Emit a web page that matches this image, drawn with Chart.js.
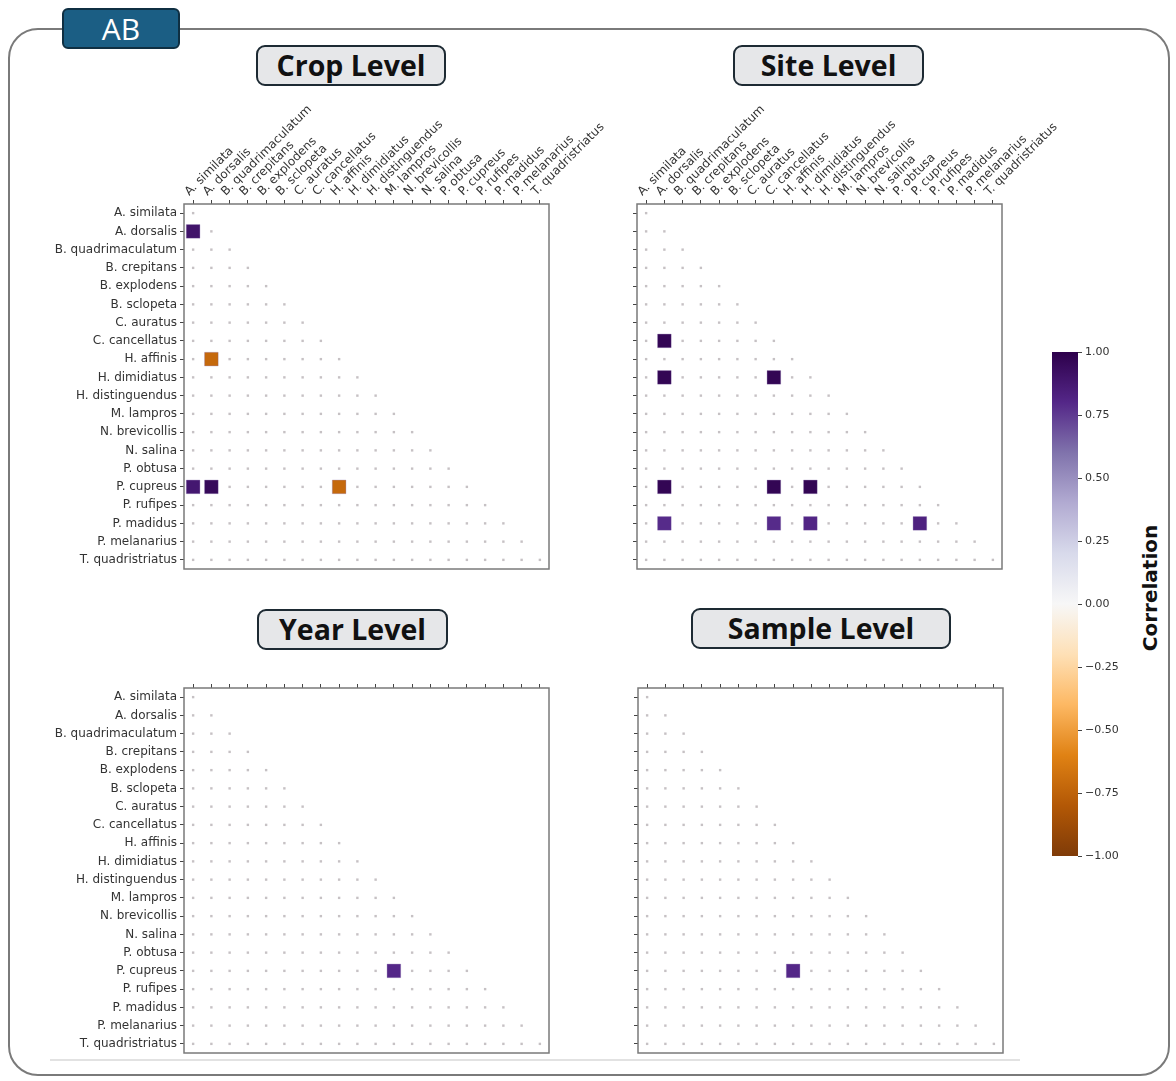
<!DOCTYPE html>
<html>
<head>
<meta charset="utf-8">
<script src="https://cdn.jsdelivr.net/npm/chart.js@4.4.1/dist/chart.umd.min.js"></script>
<style>
  body { margin: 0; background: #fff; width: 1176px; height: 1081px; position: relative; overflow: hidden; font-family: "DejaVu Sans", sans-serif; }
  .frame { position: absolute; left: 8px; top: 28px; width: 1158px; height: 1044px; border: 2px solid #7a7a7a; border-radius: 30px; }
  .tab { position: absolute; left: 62px; top: 8px; width: 114px; height: 37px; background: #1b5e84; border: 2px solid #0f2f42; border-radius: 6px; color: #fff; font: 30px "Open Sans", sans-serif; line-height: 37px; text-align: center; }
  .title { position: absolute; height: 37px; background: #e6e7e9; border: 2.5px solid #1d2a33; border-radius: 9px; font: bold 28.5px "Open Sans", sans-serif; line-height: 37px; text-align: center; color: #111; }
  canvas { position: absolute; }
  .cbar-label { position: absolute; left: 1150px; top: 588px; transform: translate(-50%, -50%) rotate(-90deg); font: bold 20px "DejaVu Sans", sans-serif; color: #111; white-space: nowrap; }
  .rule { position: absolute; left: 50px; top: 1059px; width: 970px; height: 2px; background: #e2e2e2; }
</style>
</head>
<body>
<div class="frame"></div>
<div class="tab">AB</div>
<div class="title" style="left:256px;top:45px;width:186px">Crop Level</div>
<div class="title" style="left:733px;top:45px;width:187px">Site Level</div>
<div class="title" style="left:257px;top:609px;width:187px">Year Level</div>
<div class="title" style="left:691px;top:608px;width:256px">Sample Level</div>
<div class="rule"></div>
<div class="cbar-label">Correlation</div>

<canvas id="crop" width="640" height="490" style="left:0;top:90px"></canvas>
<canvas id="site" width="490" height="490" style="left:600px;top:90px"></canvas>
<canvas id="year" width="620" height="410" style="left:0;top:660px"></canvas>
<canvas id="sample" width="440" height="410" style="left:600px;top:660px"></canvas>
<canvas id="cbar" width="136" height="550" style="left:1040px;top:330px"></canvas>

<script>
const species = [
  'A. similata', 'A. dorsalis', 'B. quadrimaculatum', 'B. crepitans', 'B. explodens',
  'B. sclopeta', 'C. auratus', 'C. cancellatus', 'H. affinis', 'H. dimidiatus',
  'H. distinguendus', 'M. lampros', 'N. brevicollis', 'N. salina', 'P. obtusa',
  'P. cupreus', 'P. rufipes', 'P. madidus', 'P. melanarius', 'T. quadristriatus'
];

// significant cells: [row, column, correlation]
const cropCells = [[1, 0, 0.90], [8, 1, -0.72], [15, 0, 0.88], [15, 1, 0.95], [15, 8, -0.72]];
const siteCells = [
  [7, 1, 0.97], [9, 1, 0.97], [9, 7, 0.97],
  [15, 1, 0.97], [15, 7, 0.97], [15, 9, 0.97],
  [17, 1, 0.79], [17, 7, 0.79], [17, 9, 0.81], [17, 15, 0.83]
];
const yearCells = [[15, 11, 0.80]];
const sampleCells = [[15, 8, 0.80]];

const cbarTicks = [-1, -0.75, -0.5, -0.25, 0, 0.25, 0.5, 0.75, 1];

// matplotlib PuOr, from -1 to 1
const puor = ['#7f3b08', '#b35806', '#e08214', '#fdb863', '#fee0b6', '#f7f7f7',
              '#d8daeb', '#b2abd2', '#8073ac', '#542788', '#2d004b'];

function hexRgb(h) {
  return [parseInt(h.slice(1, 3), 16), parseInt(h.slice(3, 5), 16), parseInt(h.slice(5, 7), 16)];
}

function corrColor(v) {
  const t = (v + 1) / 2 * (puor.length - 1);
  const i = Math.min(Math.floor(t), puor.length - 2);
  const f = t - i;
  const a = hexRgb(puor[i]), b = hexRgb(puor[i + 1]);
  const c = a.map((x, k) => Math.round(x + (b[k] - x) * f));
  return 'rgb(' + c.join(',') + ')';
}

const tickFont = { family: 'DejaVu Sans', size: 12 };

const framePlugin = {
  id: 'frame',
  afterDraw(chart) {
    const a = chart.chartArea;
    const ctx = chart.ctx;
    ctx.save();
    ctx.strokeStyle = '#7a7a7a';
    ctx.lineWidth = 1.5;
    ctx.strokeRect(a.left, a.top, a.right - a.left, a.bottom - a.top);
    ctx.restore();
  }
};

// one tick per species, at the cell centres
const speciesTicks = s => { s.ticks = species.map((_, i) => ({ value: i })); };

function makePanel(id, cells, lay) {
  const sig = {};
  cells.forEach(c => { sig[c[0] + '_' + c[1]] = c[2]; });

  const dots = [];
  for (let r = 0; r < species.length; r++) {
    for (let c = 0; c <= r; c++) {
      if (sig[r + '_' + c] === undefined) dots.push({ x: c, y: r });
    }
  }
  const squares = cells.map(c => ({ x: c[1], y: c[0], v: c[2] }));

  new Chart(document.getElementById(id), {
    type: 'scatter',
    data: {
      datasets: [
        {
          data: dots,
          pointStyle: 'rect',
          pointRadius: 1.7,
          backgroundColor: '#c6c1c4',
          borderWidth: 0,
        },
        {
          data: squares,
          pointStyle: 'rect',
          pointRadius: 9.6,
          backgroundColor: ctx => corrColor(ctx.raw.v),
          borderColor: 'rgba(120,90,160,0.35)',
          borderWidth: 0.8,
        },
      ],
    },
    options: {
      responsive: false,
      animation: false,
      events: [],
      layout: { padding: { left: 0, top: 0, right: lay.padR, bottom: lay.padB } },
      plugins: { legend: { display: false }, tooltip: { enabled: false } },
      scales: {
        x: {
          type: 'linear',
          position: 'top',
          min: -0.5,
          max: 19.5,
          afterBuildTicks: speciesTicks,
          grid: { drawOnChartArea: false, drawTicks: true, tickLength: 4, color: '#444' },
          border: { display: false },
          ticks: {
            autoSkip: false,
            maxRotation: 45,
            minRotation: 45,
            padding: 1,
            labelOffset: 4,
            color: '#333',
            font: tickFont,
            callback: v => (lay.xLabels ? species[v] : ''),
          },
          afterFit: s => { s.height = lay.axisH; s.paddingLeft = 0; s.paddingRight = 0; },
        },
        y: {
          type: 'linear',
          position: 'left',
          reverse: true,
          min: -0.5,
          max: 19.5,
          afterBuildTicks: speciesTicks,
          grid: { drawOnChartArea: false, drawTicks: true, tickLength: 4, color: '#444' },
          border: { display: false },
          ticks: {
            autoSkip: false,
            padding: 3,
            color: '#333',
            font: tickFont,
            callback: v => (lay.yLabels ? species[v] : ''),
          },
          afterFit: s => { s.width = lay.axisW; s.paddingTop = 0; s.paddingBottom = 0; },
        },
      },
    },
    plugins: [framePlugin],
  });
}

makePanel('crop', cropCells, { axisW: 184, axisH: 114, padR: 91, padB: 11, xLabels: true, yLabels: true });
makePanel('site', siteCells, { axisW: 37, axisH: 114, padR: 88, padB: 11, xLabels: true, yLabels: false });
makePanel('year', yearCells, { axisW: 184, axisH: 28, padR: 71, padB: 17, xLabels: false, yLabels: true });
makePanel('sample', sampleCells, { axisW: 38, axisH: 28, padR: 37, padB: 17, xLabels: false, yLabels: false });

// colour bar
new Chart(document.getElementById('cbar'), {
  type: 'bar',
  data: {
    labels: [''],
    datasets: [{
      data: [[cbarTicks[0], cbarTicks[cbarTicks.length - 1]]],
      barPercentage: 1,
      categoryPercentage: 1,
      borderWidth: 0,
      backgroundColor: ctx => {
        const a = ctx.chart.chartArea;
        if (!a) return '#888';
        const g = ctx.chart.ctx.createLinearGradient(0, a.bottom, 0, a.top);
        puor.forEach((c, i) => g.addColorStop(i / (puor.length - 1), c));
        return g;
      },
    }],
  },
  options: {
    responsive: false,
    animation: false,
    events: [],
    layout: { padding: { left: 12, top: 22, right: 0, bottom: 24 } },
    plugins: { legend: { display: false }, tooltip: { enabled: false } },
    scales: {
      x: { display: false },
      y: {
        position: 'right',
        min: -1,
        max: 1,
        afterBuildTicks: s => { s.ticks = cbarTicks.map(v => ({ value: v })); },
        grid: { drawOnChartArea: false, drawTicks: true, tickLength: 4, color: '#444' },
        border: { display: false },
        ticks: {
          padding: 3,
          color: '#333',
          font: { family: 'DejaVu Sans', size: 11 },
          callback: v => (v < 0 ? '\u2212' : '') + Math.abs(v).toFixed(2),
        },
        afterFit: s => { s.width = 98; s.paddingTop = 0; s.paddingBottom = 0; },
      },
    },
  },
});
</script>
</body>
</html>
